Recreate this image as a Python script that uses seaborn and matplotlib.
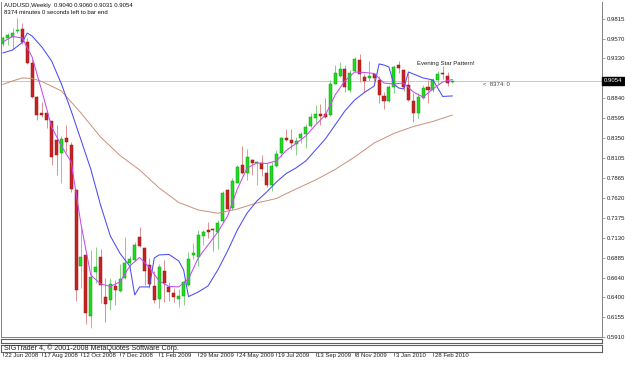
import matplotlib
matplotlib.use("Agg")
import matplotlib.pyplot as plt
import matplotlib.transforms as mtransforms
import seaborn as sns
import pandas as pd

# ---------------- data (weekly AUDUSD candles, bar 0 = week of 22 Jun 2008) -------------
opens = [0.9504, 0.9578, 0.9598, 0.9662, 0.9692, 0.9533, 0.9275, 0.8857, 0.8655, 0.8661,
         0.8557, 0.8323, 0.8174, 0.8358, 0.8268, 0.7716, 0.6783, 0.6918, 0.6169, 0.6713,
         0.6893, 0.6402, 0.6365, 0.6531, 0.6476, 0.6635, 0.6819, 0.6850, 0.7139, 0.7004,
         0.6795, 0.6537, 0.6371, 0.6725, 0.6528, 0.6455, 0.6374, 0.6408, 0.6549, 0.6918,
         0.6897, 0.7151, 0.7225, 0.7237, 0.7204, 0.7339, 0.7716, 0.7491, 0.7805, 0.8023,
         0.7928, 0.8084, 0.8043, 0.8051, 0.7928, 0.7777, 0.8010, 0.8174, 0.8348, 0.8330,
         0.8280, 0.8350, 0.8403, 0.8495, 0.8596, 0.8649, 0.8649, 0.8636, 0.9017, 0.9115,
         0.9198, 0.8943, 0.9180, 0.9312, 0.9099, 0.9094, 0.9140, 0.9066, 0.8870, 0.8812,
         0.8977, 0.9250, 0.9189, 0.9005, 0.8812, 0.8657, 0.8841, 0.8984, 0.8943, 0.9066,
         0.9156, 0.9115, 0.9040]
highs = [0.9606, 0.9639, 0.9701, 0.9827, 0.9766, 0.9582, 0.9324, 0.8870, 0.8796, 0.8673,
         0.8563, 0.8514, 0.8379, 0.8514, 0.8305, 0.7728, 0.7249, 0.6930, 0.6979, 0.7016,
         0.6991, 0.6635, 0.6635, 0.6611, 0.6807, 0.7139, 0.6905, 0.7077, 0.7261, 0.7016,
         0.6881, 0.6721, 0.6807, 0.6856, 0.6586, 0.6513, 0.6500, 0.6611, 0.6955, 0.7065,
         0.7225, 0.7218, 0.7323, 0.7249, 0.7347, 0.7703, 0.7728, 0.7863, 0.8023, 0.8256,
         0.8219, 0.8096, 0.8072, 0.8145, 0.8047, 0.8059, 0.8207, 0.8370, 0.8465, 0.8465,
         0.8366, 0.8431, 0.8526, 0.8655, 0.8759, 0.8771, 0.8845, 0.9066, 0.9250, 0.9291,
         0.9250, 0.9189, 0.9352, 0.9385, 0.9140, 0.9303, 0.9156, 0.9115, 0.8922, 0.9005,
         0.9250, 0.9303, 0.9198, 0.9152, 0.8910, 0.8903, 0.9005, 0.9066, 0.9087, 0.9180,
         0.9238, 0.9168, 0.9060]
lows = [0.9484, 0.9496, 0.9447, 0.9643, 0.9508, 0.9263, 0.8845, 0.8575, 0.8612, 0.8477,
        0.8023, 0.7900, 0.7802, 0.8182, 0.7691, 0.6347, 0.6513, 0.6071, 0.6021, 0.6574,
        0.6328, 0.6095, 0.6242, 0.6304, 0.6463, 0.6623, 0.6758, 0.6844, 0.7016, 0.6549,
        0.6513, 0.6328, 0.6267, 0.6341, 0.6353, 0.6341, 0.6279, 0.6304, 0.6537, 0.6869,
        0.6783, 0.7040, 0.7126, 0.6967, 0.6991, 0.7323, 0.7470, 0.7470, 0.7802, 0.7912,
        0.7838, 0.7900, 0.7777, 0.7888, 0.7753, 0.7703, 0.7998, 0.8121, 0.8317, 0.8219,
        0.8145, 0.8296, 0.8231, 0.8489, 0.8538, 0.8514, 0.8600, 0.8624, 0.9011, 0.9103,
        0.8922, 0.8919, 0.9168, 0.9045, 0.8922, 0.9058, 0.9058, 0.8787, 0.8710, 0.8800,
        0.8910, 0.9148, 0.8935, 0.8812, 0.8554, 0.8596, 0.8829, 0.8787, 0.8922, 0.9017,
        0.9075, 0.8992, 0.9031]
closes = [0.9578, 0.9619, 0.9637, 0.9674, 0.9536, 0.9271, 0.8857, 0.8636, 0.8636, 0.8575,
          0.8115, 0.8145, 0.8338, 0.8301, 0.7724, 0.6482, 0.6897, 0.6199, 0.6651, 0.6770,
          0.6549, 0.6310, 0.6562, 0.6488, 0.6623, 0.6823, 0.6869, 0.7040, 0.7028, 0.6725,
          0.6562, 0.6359, 0.6774, 0.6578, 0.6467, 0.6398, 0.6414, 0.6590, 0.6865, 0.6946,
          0.7163, 0.7204, 0.7204, 0.7218, 0.7307, 0.7679, 0.7479, 0.7830, 0.8002, 0.7921,
          0.8125, 0.8051, 0.8063, 0.7970, 0.7777, 0.8010, 0.8158, 0.8350, 0.8330, 0.8289,
          0.8317, 0.8403, 0.8493, 0.8608, 0.8649, 0.8624, 0.8608, 0.9017, 0.9148, 0.9198,
          0.8977, 0.9156, 0.9320, 0.9140, 0.9058, 0.9119, 0.9094, 0.8882, 0.8812, 0.8977,
          0.9222, 0.9210, 0.8977, 0.8821, 0.8657, 0.8854, 0.8964, 0.8943, 0.9066, 0.9140,
          0.9136, 0.9026, 0.9054]

# fast moving average (magenta), read every 2nd bar
ma_fast_idx = list(range(0, 93, 2))
ma_fast = [0.9533, 0.9600, 0.9582, 0.9349, 0.8931, 0.8489, 0.8256, 0.8059, 0.7298, 0.6672,
           0.6562, 0.6531, 0.6586, 0.6783, 0.6887, 0.6764, 0.6598, 0.6531, 0.6525, 0.6623,
           0.6881, 0.7040, 0.7200, 0.7396, 0.7728, 0.7986, 0.8047, 0.8041, 0.8072, 0.8201,
           0.8287, 0.8379, 0.8514, 0.8636, 0.8882, 0.9054, 0.9164, 0.9158, 0.9146, 0.9029,
           0.9017, 0.9029, 0.8919, 0.8857, 0.8956, 0.9042, 0.9072]
# blue line
ma_blue_idx = [0, 2, 4, 5, 6, 8, 10, 12, 14, 16, 18, 20, 22, 24, 26, 27, 28, 30, 31, 32,
               34, 36, 37, 38, 40, 42, 44, 46, 48, 50, 52, 54, 56, 58, 60, 62, 64, 66, 68,
               70, 72, 74, 76, 77, 78, 79, 80, 81, 82, 83, 84, 86, 88, 89, 90, 92]
ma_blue = [0.9398, 0.9434, 0.9527, 0.9643, 0.9606, 0.9471, 0.9299, 0.9017, 0.8686, 0.8330,
           0.7973, 0.7532, 0.7151, 0.6936, 0.6780, 0.6427, 0.6525, 0.6525, 0.6881, 0.6918,
           0.6924, 0.6844, 0.6734, 0.6406, 0.6463, 0.6537, 0.6734, 0.6967, 0.7225, 0.7433,
           0.7581, 0.7691, 0.7814, 0.7918, 0.7986, 0.8072, 0.8207, 0.8342, 0.8514, 0.8686,
           0.8821, 0.8913, 0.8992, 0.9263, 0.9250, 0.9226, 0.9017, 0.8968, 0.8956, 0.9164,
           0.9140, 0.9091, 0.9066, 0.8968, 0.8864, 0.8870]
# slow moving average (brown)
ma_slow_idx = [0, 2, 4, 6, 8, 12, 16, 20, 24, 28, 32, 36, 40, 44, 48, 52, 56, 60, 64, 68,
               72, 76, 80, 84, 88, 92]
ma_slow = [0.9011, 0.9054, 0.9091, 0.9085, 0.9048, 0.8931, 0.8661, 0.8366, 0.8139, 0.7961,
           0.7740, 0.7562, 0.7470, 0.7430, 0.7482, 0.7556, 0.7611, 0.7728, 0.7838, 0.7967,
           0.8121, 0.8293, 0.8409, 0.8495, 0.8557, 0.8636]

price_ticks = [0.9815, 0.9570, 0.9330, 0.8840, 0.8595, 0.8350, 0.8105, 0.7865, 0.7620,
               0.7375, 0.7130, 0.6885, 0.6640, 0.6400, 0.6155, 0.5910]
date_idx = [0, 8, 16, 24, 32, 40, 48, 56, 64, 72, 80, 88]
date_labels = ["22 Jun 2008", "17 Aug 2008", "12 Oct 2008", "7 Dec 2008", "1 Feb 2009",
               "29 Mar 2009", "24 May 2009", "19 Jul 2009", "13 Sep 2009", "8 Nov 2009",
               "3 Jan 2010", "28 Feb 2010"]
current_price = 0.9054
title_line1 = "AUDUSD,Weekly  0.9040 0.9060 0.9031 0.9054"
title_line2 = "8374 minutes 0 seconds left to bar end"
pattern_text = "Evening Star Pattern!"
pattern_pos = (84.8, 0.9263)
timer_text = "<  8374: 0"
timer_pos = (98.3, 0.9005)
copyright_text = "SIGTrader 4, \u00a9 2001-2008 MetaQuotes Software Corp."

# ---------------- style -------------------
sns.set_style("white")
plt.rcParams['font.family'] = ['Liberation Sans', 'DejaVu Sans']
FS = 4.3
GRAY = '#808080'

W, H = 625, 365
fig = plt.figure(figsize=(W / 100, H / 100), dpi=100)
fig.patch.set_facecolor('white')


def rect(x0, y0, x1, y1):
    return [x0 / W, 1 - y1 / H, (x1 - x0) / W, (y1 - y0) / H]


XL = (-0.36, 122.6)
ax = fig.add_axes(rect(1, 2, 602, 337))
ax.set_xlim(*XL)
ax.set_ylim(0.59109, 1.00237)
ax.set_facecolor('white')

df = pd.DataFrame({'idx': range(len(opens)), 'open': opens, 'high': highs,
                   'low': lows, 'close': closes})
df['up'] = df['close'] >= df['open']
df['bottom'] = df[['open', 'close']].min(axis=1)
df['height'] = (df['close'] - df['open']).abs().clip(lower=0.0009)

up = df[df['up']]
dn = df[~df['up']]
ax.axhline(current_price, color='#c8c8c8', lw=0.7, zorder=0)
ax.vlines(up['idx'], up['low'], up['high'], color='#84d284', lw=0.7, zorder=1)
ax.vlines(dn['idx'], dn['low'], dn['high'], color='#dc9090', lw=0.7, zorder=1)
ax.bar(up['idx'], up['height'], bottom=up['bottom'], width=0.62, color='#1fdc1f',
       edgecolor='#129a12', linewidth=0.35, zorder=2)
ax.bar(dn['idx'], dn['height'], bottom=dn['bottom'], width=0.62, color='#c42424',
       edgecolor='#a01515', linewidth=0.35, zorder=2)

sns.lineplot(x=ma_slow_idx, y=ma_slow, ax=ax, color='#c99078', lw=0.7, zorder=3)
sns.lineplot(x=ma_blue_idx, y=ma_blue, ax=ax, color='#4b4bf5', lw=0.75, zorder=3)
sns.lineplot(x=ma_fast_idx, y=ma_fast, ax=ax, color='#c24cf0', lw=0.75, zorder=3)

# axes frame / scale
for side in ['left', 'bottom', 'right']:
    ax.spines[side].set_color(GRAY)
    ax.spines[side].set_linewidth(0.7)
ax.spines['top'].set_visible(False)
ax.spines['right'].set_linestyle((0, (1, 1)))
ax.set_xticks([])
ax.yaxis.tick_right()
ax.set_yticks(price_ticks)
ax.set_yticklabels([f"{v:.4f}" for v in price_ticks])
ax.tick_params(axis='y', right=True, left=False, length=2.0, width=0.5, color=GRAY,
               pad=1.2, labelsize=FS, labelcolor='#202020')
ax.set_xlabel('')
ax.set_ylabel('')

blend = mtransforms.blended_transform_factory(ax.transAxes, ax.transData)
ax.text(1.003, current_price, f"{current_price:.4f}", transform=blend, fontsize=FS,
        color='white', va='center', ha='left',
        bbox=dict(boxstyle='square,pad=0.25', fc='black', ec='black'))

ax.text(*pattern_pos, pattern_text, fontsize=FS, color='#202020', va='center', ha='left')
ax.text(*timer_pos, timer_text, fontsize=FS, color='#404040', va='center', ha='left')

fig.text(4 / W, 1 - 6 / H, title_line1, fontsize=FS, va='center', ha='left', color='#101010')
fig.text(4 / W, 1 - 12.8 / H, title_line2, fontsize=FS, va='center', ha='left', color='#101010')

# empty indicator sub-windows
ax1 = fig.add_axes(rect(1, 339, 602, 342.5))
ax2 = fig.add_axes(rect(1, 345, 602, 351.5))
for a in (ax1, ax2):
    a.set_xlim(*XL)
    a.set_yticks([])
    a.set_facecolor('white')
    for s in a.spines.values():
        s.set_color('#606060')
        s.set_linewidth(0.8)
ax1.set_xticks([])
ax2.text(3 / 601, 0.5, copyright_text, transform=ax2.transAxes, fontsize=5.1,
         va='center', ha='left', color='#202020')
ax2.set_xticks(date_idx)
ax2.set_xticklabels(date_labels)
ax2.tick_params(axis='x', bottom=True, length=3.0, width=0.5, color='#404040',
                pad=-2.0, labelsize=FS, labelcolor='#202020')
offset = mtransforms.ScaledTranslation(1.8 / 100, 0, fig.dpi_scale_trans)
for lbl in ax2.get_xticklabels():
    lbl.set_horizontalalignment('left')
    lbl.set_transform(lbl.get_transform() + offset)

fig.savefig('out.png', dpi=100, facecolor='white')
